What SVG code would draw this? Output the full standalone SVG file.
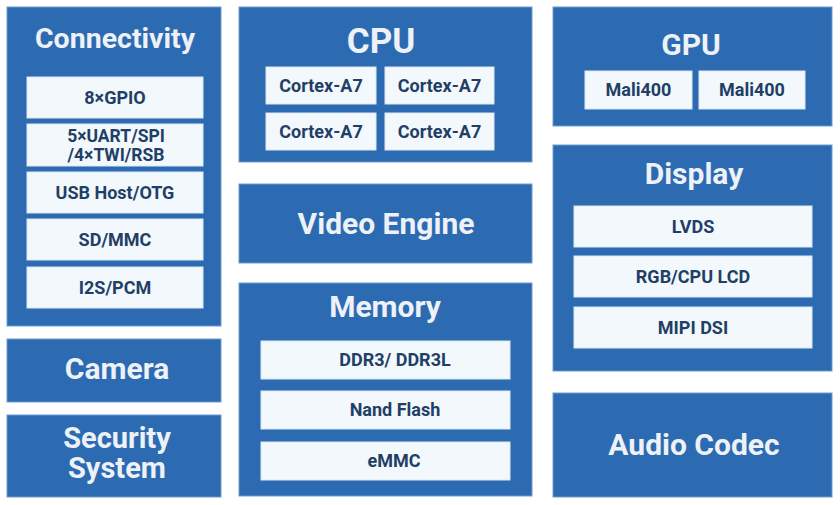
<svg xmlns="http://www.w3.org/2000/svg" width="840" height="505" viewBox="0 0 840 505">
<style>
.blk{fill:#2c6bb2;stroke:#6e9bd0;stroke-width:1}
.item{fill:#f3f8fc;stroke:#dbe7f3;stroke-width:1}
.ttl{font-family:Roboto,"Liberation Sans",sans-serif;font-weight:bold;fill:#eef1f6;text-anchor:middle;font-size:30px}
.lbl{font-family:Roboto,"Liberation Sans",sans-serif;font-weight:bold;fill:#1f3f66;text-anchor:middle;font-size:18px}
</style>
<rect width="840" height="505" fill="#ffffff"/>
<g id="connectivity">
<rect class="blk" x="7" y="7" width="214" height="319"/>
<text class="ttl" x="115" y="48" style="font-size:28.5px">Connectivity</text>
<rect class="item" x="27" y="77" width="176" height="41"/>
<text class="lbl" x="115" y="104">8×GPIO</text>
<rect class="item" x="27" y="124" width="176" height="42"/>
<text class="lbl" x="116" y="142" style="font-size:17.5px">5×UART/SPI</text>
<text class="lbl" x="116" y="161" style="font-size:17.5px">/4×TWI/RSB</text>
<rect class="item" x="27" y="172" width="176" height="41"/>
<text class="lbl" x="115" y="199">USB Host/OTG</text>
<rect class="item" x="27" y="219" width="176" height="41"/>
<text class="lbl" x="115" y="246">SD/MMC</text>
<rect class="item" x="27" y="267" width="176" height="41"/>
<text class="lbl" x="115" y="294">I2S/PCM</text>
</g>
<g id="camera">
<rect class="blk" x="7" y="339" width="214" height="63"/>
<text class="ttl" x="117" y="379">Camera</text>
</g>
<g id="security">
<rect class="blk" x="7" y="415" width="214" height="82"/>
<text class="ttl" x="117" y="448" style="font-size:29px">Security</text>
<text class="ttl" x="117" y="478" style="font-size:29px">System</text>
</g>
<g id="cpu">
<rect class="blk" x="239" y="7" width="293" height="155"/>
<text class="ttl" x="381" y="53" style="font-size:35px">CPU</text>
<rect class="item" x="266" y="67" width="110" height="37"/>
<text class="lbl" x="321" y="92">Cortex-A7</text>
<rect class="item" x="385" y="67" width="109" height="37"/>
<text class="lbl" x="439.5" y="92">Cortex-A7</text>
<rect class="item" x="266" y="113" width="110" height="37"/>
<text class="lbl" x="321" y="138">Cortex-A7</text>
<rect class="item" x="385" y="113" width="109" height="37"/>
<text class="lbl" x="439.5" y="138">Cortex-A7</text>
</g>
<g id="video-engine">
<rect class="blk" x="239" y="184" width="293" height="79"/>
<text class="ttl" x="386" y="234">Video Engine</text>
</g>
<g id="memory">
<rect class="blk" x="239" y="283" width="293" height="213"/>
<text class="ttl" x="385" y="317">Memory</text>
<rect class="item" x="261" y="341" width="249" height="38"/>
<text class="lbl" x="395" y="366">DDR3/ DDR3L</text>
<rect class="item" x="261" y="391" width="249" height="38"/>
<text class="lbl" x="395" y="416">Nand Flash</text>
<rect class="item" x="261" y="442" width="249" height="38"/>
<text class="lbl" x="394" y="467">eMMC</text>
</g>
<g id="gpu">
<rect class="blk" x="553" y="7" width="279" height="119"/>
<text class="ttl" x="691" y="55">GPU</text>
<rect class="item" x="585" y="71" width="107" height="38"/>
<text class="lbl" x="638.5" y="96">Mali400</text>
<rect class="item" x="699" y="71" width="106" height="38"/>
<text class="lbl" x="752" y="96">Mali400</text>
</g>
<g id="display">
<rect class="blk" x="553" y="145" width="279" height="226"/>
<text class="ttl" x="694" y="184">Display</text>
<rect class="item" x="574" y="206" width="238" height="41"/>
<text class="lbl" x="693" y="233">LVDS</text>
<rect class="item" x="574" y="256" width="238" height="41"/>
<text class="lbl" x="693" y="283">RGB/CPU LCD</text>
<rect class="item" x="574" y="307" width="238" height="41"/>
<text class="lbl" x="693" y="334">MIPI DSI</text>
</g>
<g id="audio-codec">
<rect class="blk" x="553" y="393" width="279" height="104"/>
<text class="ttl" x="694" y="455">Audio Codec</text>
</g>
<g id="connectors"></g>
</svg>
